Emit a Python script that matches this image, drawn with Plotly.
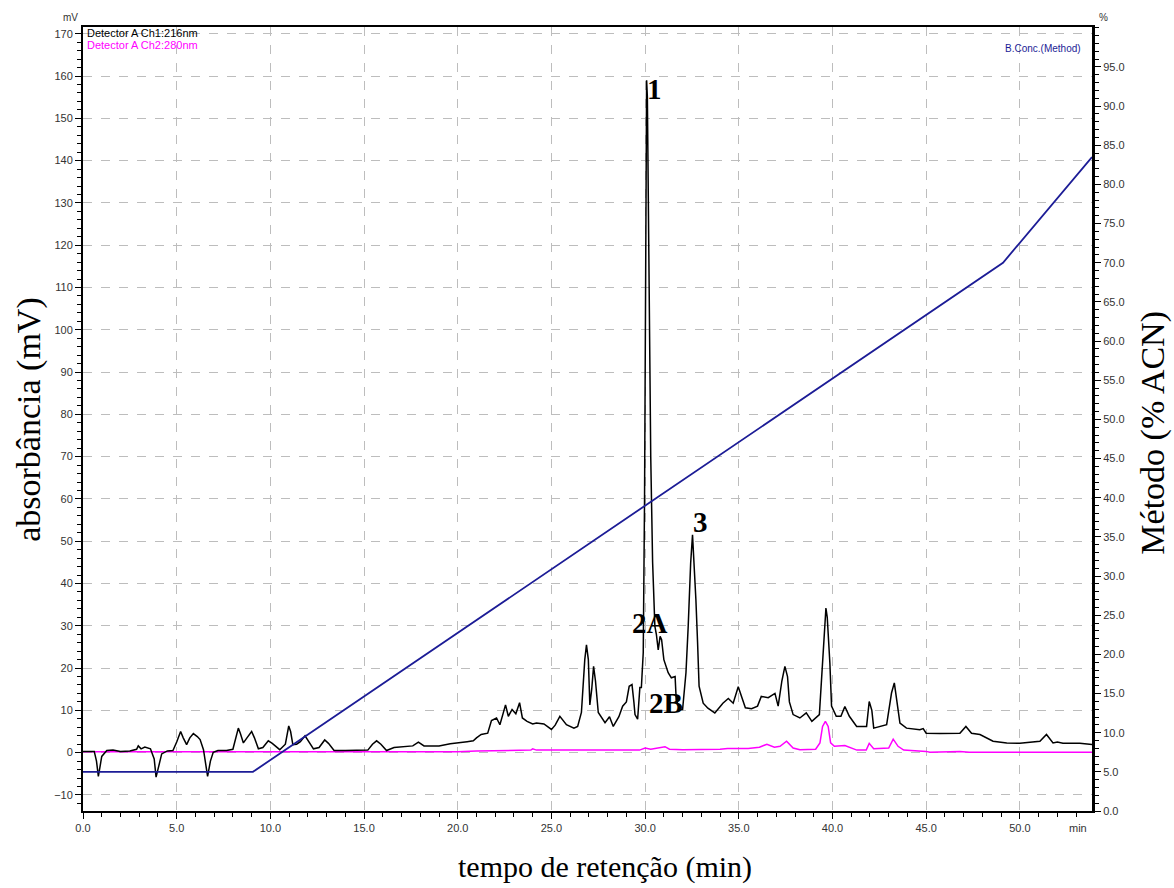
import plotly.graph_objects as go

# ---- data ----
ch1_time = [0.0, 0.6, 0.72, 0.82, 0.92, 1.0, 1.27, 1.6, 2.0, 2.5, 2.86, 2.95, 3.1, 3.3, 3.6, 3.8, 3.9, 4.05, 4.2,
            4.5, 4.8, 5.0, 5.21, 5.35, 5.53, 5.7, 5.89, 6.1, 6.25, 6.43, 6.55, 6.65, 6.8, 6.95, 7.2, 7.66, 8.0,
            8.15, 8.29, 8.4, 8.56, 8.75, 9.0, 9.15, 9.36, 9.6, 9.89, 10.1, 10.5, 10.8, 10.98, 11.08, 11.2, 11.4,
            11.6, 11.85, 12.05, 12.3, 12.6, 12.9, 13.1, 13.4, 14.0, 14.6, 15.2, 15.45, 15.67, 15.9, 16.2, 16.6,
            17.0, 17.6, 17.9, 18.2, 19.0, 19.6, 20.5, 20.83, 21.0, 21.25, 21.6, 21.8, 22.07, 22.25, 22.43, 22.55,
            22.7, 22.9, 23.1, 23.3, 23.45, 23.7, 24.0, 24.2, 24.6, 25.0, 25.2, 25.45, 25.8, 26.2, 26.4, 26.6,
            26.78, 26.87, 26.97, 27.05, 27.15, 27.25, 27.35, 27.5, 27.86, 28.1, 28.3, 28.6, 28.8, 29.0, 29.15,
            29.3, 29.4, 29.46, 29.6, 29.72, 29.8, 29.9, 29.97, 30.03, 30.08, 30.12, 30.17, 30.23, 30.3, 30.4,
            30.52, 30.6, 30.7, 30.8, 30.88, 31.0, 31.23, 31.4, 31.6, 31.66, 31.86, 32.0, 32.18, 32.3, 32.43,
            32.53, 32.6, 32.71, 32.8, 32.88, 33.1, 33.35, 33.72, 34.15, 34.44, 34.7, 34.97, 35.1, 35.35, 35.68,
            36.0, 36.2, 36.57, 36.93, 37.1, 37.3, 37.46, 37.6, 37.7, 37.9, 38.26, 38.6, 38.9, 39.3, 39.47, 39.6,
            39.65, 39.72, 39.86, 39.95, 40.2, 40.45, 40.66, 40.9, 41.29, 41.82, 41.96, 42.1, 42.2, 42.89, 43.15,
            43.3, 43.4, 43.6, 43.95, 44.66, 44.84, 45.0, 45.73, 46.1, 46.8, 47.12, 47.42, 47.87, 48.57, 49.3,
            50.0, 51.07, 51.42, 51.77, 52.0, 52.3, 53.2, 53.85]
ch1_mv = [0.3, 0.3, -2.0, -5.6, -3.0, -0.9, 0.5, 0.6, 0.3, 0.4, 0.8, 1.6, 0.9, 1.3, 0.9, -1.5, -5.8, -3.0, -0.3,
          0.4, 0.5, 2.5, 5.0, 3.5, 1.9, 3.5, 4.5, 3.8, 3.1, 0.7, -3.0, -5.6, -2.0, 0.1, 0.5, 0.5, 0.8,
          3.5, 5.8, 4.5, 2.3, 3.5, 5.0, 3.5, 0.9, 1.2, 2.8, 2.2, 0.7, 2.0, 6.3, 5.0, 1.9, 2.0,
          2.6, 4.0, 2.5, 0.9, 1.2, 3.0, 2.2, 0.5, 0.5, 0.5, 0.6, 2.0, 2.8, 2.0, 0.5, 1.2,
          1.3, 1.6, 2.5, 1.6, 1.6, 2.1, 2.6, 2.8, 3.5, 4.3, 4.6, 7.6, 8.2, 6.6, 9.4, 11.3,
          8.6, 10.2, 9.2, 11.8, 8.2, 7.4, 6.8, 7.0, 6.8, 5.5, 6.5, 8.6, 6.6, 5.8, 6.2, 9.5,
          22.0, 25.5, 22.0, 11.3, 15.0, 20.4, 17.0, 9.5, 7.1, 8.5, 6.2, 8.5, 11.0, 12.0, 15.7,
          16.1, 12.0, 9.0, 7.9, 15.4, 15.4, 23.6, 60.0, 120.0, 159.0, 155.0, 125.0, 97.0, 70.0, 45.0,
          29.9, 28.0, 24.3, 27.5, 26.7, 22.0, 18.9, 17.7, 18.0, 12.5, 10.2, 10.2, 18.9, 29.9, 44.8,
          51.5, 46.0, 36.2, 26.0, 15.7, 11.7, 10.5, 9.4, 11.7, 12.8, 11.7, 15.6, 14.0, 10.6, 10.4,
          11.0, 13.3, 13.0, 14.0, 11.0, 17.0, 20.4, 18.0, 12.0, 9.0, 8.2, 9.4, 7.4, 9.0, 20.4, 30.0,
          34.2, 32.0, 21.2, 11.0, 8.6, 8.6, 10.9, 8.6, 6.2, 6.2, 12.1, 10.0, 5.8, 6.6, 14.1,
          16.5, 13.3, 7.0, 5.8, 5.4, 5.7, 4.6, 4.5, 4.5, 4.6, 6.2, 4.6, 4.3, 2.7, 2.3,
          2.2, 2.7, 4.3, 2.3, 2.5, 2.2, 2.2, 1.9]

ch2_time = [0.0, 20.0, 21.0, 23.9, 24.0, 24.2, 29.7, 30.0, 30.3, 31.06, 31.3, 32.0, 34.0, 34.4, 35.5, 36.1, 36.5,
            36.9, 37.2, 37.55, 37.9, 38.26, 39.1, 39.33, 39.47, 39.62, 39.77, 39.9, 40.1, 40.66, 41.3, 41.8,
            41.96, 42.2, 43.0, 43.24, 43.5, 43.8, 45.0, 45.2, 46.8, 47.3, 53.85]
ch2_mv = [0.2, 0.2, 0.4, 0.6, 0.9, 0.6, 0.6, 1.1, 0.8, 1.4, 0.8, 0.7, 0.8, 1.0, 1.0, 1.3, 2.0,
          1.3, 1.5, 2.7, 1.1, 0.7, 0.8, 2.3, 6.2, 7.4, 6.2, 2.3, 1.5, 1.7, 0.6, 0.6,
          2.2, 0.9, 1.1, 3.2, 1.5, 0.6, 0.3, 0.1, 0.3, 0.1, 0.1]

grad_time = [0.0, 9.07, 49.1, 53.85]
grad_pct = [5.0, 5.0, 70.0, 83.5]

x_ticks = [0, 5, 10, 15, 20, 25, 30, 35, 40, 45, 50]
x_ticktext = ["0.0", "5.0", "10.0", "15.0", "20.0", "25.0", "30.0", "35.0", "40.0", "45.0", "50.0"]
y_ticks = list(range(-10, 171, 10))
y2_ticks = [i * 5 for i in range(20)]
y2_ticktext = ["%.1f" % v for v in y2_ticks]

peak_labels = ["1", "2A", "2B", "3"]
peak_lx = [30.5, 30.28, 31.1, 32.95]
peak_ly = [157.0, 30.7, 11.8, 54.6]

# ---- figure ----
serif = "Liberation Serif, Times New Roman, serif"
sans = "Liberation Sans, Arial, sans-serif"
tickfont = dict(family=sans, size=11, color="#333333")

fig = go.Figure()
fig.add_trace(go.Scatter(x=ch2_time, y=ch2_mv, mode="lines", line=dict(color="#ff00ff", width=1.5),
                         name="Detector A Ch2:280nm", showlegend=False))
fig.add_trace(go.Scatter(x=ch1_time, y=ch1_mv, mode="lines", line=dict(color="#000000", width=1.5),
                         name="Detector A Ch1:216nm", showlegend=False))
fig.add_trace(go.Scatter(x=grad_time, y=grad_pct, mode="lines", line=dict(color="#1c1c96", width=1.8),
                         name="B.Conc.(Method)", yaxis="y2", showlegend=False))

fig.update_layout(
    width=1174, height=888,
    margin=dict(l=83, r=82, t=27, b=77),
    paper_bgcolor="white", plot_bgcolor="white",
    xaxis=dict(range=[0, 53.85], tickvals=x_ticks, ticktext=x_ticktext, tickfont=tickfont,
               ticks="outside", ticklen=6, tickwidth=1, tickcolor="black",
               minor=dict(ticks="outside", ticklen=4, dtick=1, tickcolor="black", showgrid=False),
               showline=True, linecolor="black", linewidth=2, mirror=True,
               showgrid=True, gridcolor="#bdbdbd", griddash="dash", gridwidth=1, zeroline=False),
    yaxis=dict(range=[-13.8, 171.6], tickvals=y_ticks, tickfont=tickfont,
               ticks="outside", ticklen=6, tickwidth=1, tickcolor="black",
               minor=dict(ticks="outside", ticklen=4, dtick=2, tickcolor="black", showgrid=False),
               showline=True, linecolor="black", linewidth=2,
               showgrid=True, gridcolor="#bdbdbd", griddash="dash", gridwidth=1, zeroline=False),
    yaxis2=dict(range=[0, 100.1], overlaying="y", side="right", tickvals=y2_ticks, ticktext=y2_ticktext,
                tickfont=tickfont, ticks="outside", ticklen=6, tickwidth=1, tickcolor="black",
                minor=dict(ticks="outside", ticklen=4, dtick=1, tickcolor="black", showgrid=False),
                showline=True, linecolor="black", linewidth=3, showgrid=False, zeroline=False),
)

for txt, lx, ly in zip(peak_labels, peak_lx, peak_ly):
    fig.add_annotation(x=lx, y=ly, xref="x", yref="y", text="<b>%s</b>" % txt, showarrow=False,
                       font=dict(family=serif, size=29, color="black"), xanchor="center", yanchor="middle")

ann = [
    dict(text="absorbância (mV)", x=-0.0535, y=0.499, textangle=-90, font=dict(family=serif, size=34, color="black")),
    dict(text="Método (% ACN)", x=1.061, y=0.482, textangle=-90, font=dict(family=serif, size=34, color="black")),
    dict(text="tempo de retenção (min)", x=0.517, y=-0.0714, font=dict(family=serif, size=30, color="black")),
    dict(text="mV", x=-0.012, y=1.0115, font=dict(family=sans, size=10, color="#333333")),
    dict(text="%", x=1.011, y=1.0115, font=dict(family=sans, size=10, color="#333333")),
]
for a in ann:
    fig.add_annotation(xref="paper", yref="paper", showarrow=False, xanchor="center", yanchor="middle", **a)

fig.add_annotation(xref="paper", yref="paper", x=0.002, y=0.992, text="Detector A Ch1:216nm", showarrow=False,
                   xanchor="left", yanchor="middle", font=dict(family=sans, size=11, color="black"))
fig.add_annotation(xref="paper", yref="paper", x=0.002, y=0.977, text="Detector A Ch2:280nm", showarrow=False,
                   xanchor="left", yanchor="middle", font=dict(family=sans, size=11, color="#ff00ff"))
fig.add_annotation(xref="paper", yref="paper", x=0.991, y=0.973, text="B.Conc.(Method)", showarrow=False,
                   xanchor="right", yanchor="middle", font=dict(family=sans, size=10, color="#1c1c96"))
fig.add_annotation(xref="x", yref="paper", x=53.1, y=-0.0217, text="min", showarrow=False,
                   xanchor="center", yanchor="middle", font=dict(family=sans, size=11, color="#333333"))

fig.write_html("out.html")
